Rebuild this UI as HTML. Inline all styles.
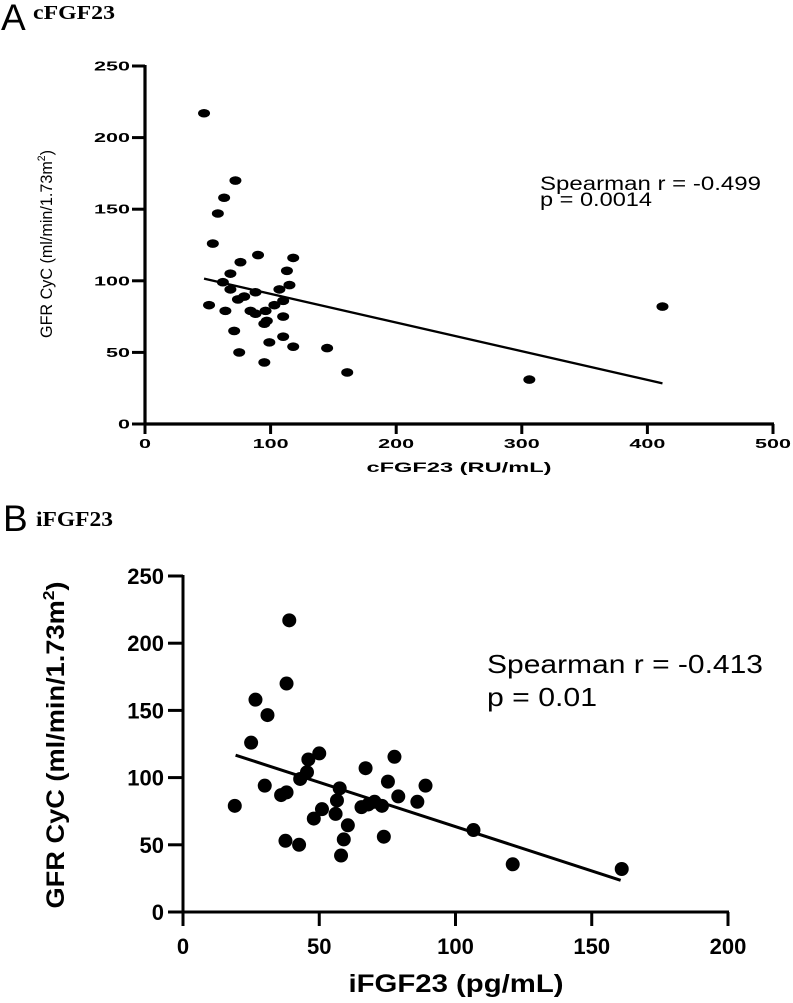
<!DOCTYPE html>
<html><head><meta charset="utf-8"><style>
html,body{margin:0;padding:0;background:#fff;}
svg{display:block;}
text{fill:#000;}
</style></head><body>
<svg id="fig" width="793" height="1003" viewBox="0 0 793 1003" xmlns="http://www.w3.org/2000/svg">
<text x="1" y="30" font-family="Liberation Sans, sans-serif" font-size="37" font-weight="300">A</text>
<text x="33" y="19" font-family="Liberation Serif, serif" font-size="20" font-weight="bold" textLength="82" lengthAdjust="spacingAndGlyphs">cFGF23</text>
<text x="3" y="531" font-family="Liberation Sans, sans-serif" font-size="37" font-weight="300">B</text>
<text x="36" y="526" font-family="Liberation Serif, serif" font-size="21" font-weight="bold" textLength="77" lengthAdjust="spacingAndGlyphs">iFGF23</text>
<g id="chartA"></g>
<g id="chartB"></g>
</svg>
<script>
// Panel A data (cFGF23 RU/mL vs GFR CyC)
const aX = [47,72,63,58,54,90,118,76,113,68,62,115,68,107,88,79,74,110,51,103,84,64,96,88,110,97,95,71,110,99,118,145,75,95,161,306,412];
const aY = [217,170,158,147,126,118,116,113,107,105,99,97,94,94,92,89,87,86,83,83,79,79,79,77,75,72,70,65,61,57,54,53,50,43,36,31,82];
const aLineX = [47,412];
const aLineY = [101.5,28.4];
const aXTicks = [0,100,200,300,400,500];
const aYTicks = [0,50,100,150,200,250];
// Panel B data (iFGF23 pg/mL vs GFR CyC)
const bX = [39,38,26.6,31,25,50,46,45.5,43,30,38,36,19,57.5,56.5,51,56,48,60.5,59,37.6,42.6,58,67,65.5,77.6,75.2,89,79,86,70.3,73,68,73.7,106.6,121,161];
const bY = [217,170,158,146.5,126,118,113.5,104,99,94,89,87,79,92,83,76.5,73,69.5,64.5,54,53,50,42,107,78,115.5,97,94,86,82,82,79,80,56,61,35.5,32];
const bLineX = [19.3,160.6];
const bLineY = [116.7,23.6];
const bXTicks = [0,50,100,150,200];
const bYTicks = [0,50,100,150,200,250];

const NS = 'http://www.w3.org/2000/svg';
function mk(parent, tag, attrs, txt) {
  const e = document.createElementNS(NS, tag);
  for (const k in attrs) e.setAttribute(k, attrs[k]);
  if (txt !== undefined) e.textContent = txt;
  parent.appendChild(e);
  return e;
}

// ---------- Panel A ----------
(function(){
  const g = document.getElementById('chartA');
  const x0 = 145, x1 = 773, y0 = 424, y1 = 66;
  const sx = v => x0 + (v - 0) / 500 * (x1 - x0);
  const sy = v => y0 - v / 250 * (y0 - y1);
  const yAxis = mk(g, 'line', {x1:x0, y1:y1-1, x2:x0, y2:y0+1, stroke:'#000', 'stroke-width':3.2});
  
  
  const xAxis = mk(g, 'line', {x1:x0-1, y1:y0, x2:x1+1, y2:y0, stroke:'#000', 'stroke-width':3.2});
  
  
  aYTicks.forEach(v => {
    const t = mk(g, 'line', {x1:x0-13, y1:sy(v), x2:x0, y2:sy(v), stroke:'#000', 'stroke-width':3});
    
    
    const s = String(v);
    const l = mk(g, 'text', {x:130, y:sy(v)+4.5, 'text-anchor':'end', 'font-family':'Liberation Sans, sans-serif', 'font-size':12.5, 'font-weight':'bold', textLength: s.length*12, lengthAdjust:'spacingAndGlyphs'}, s);
    
    
  });
  aXTicks.forEach(v => {
    const t = mk(g, 'line', {x1:sx(v), y1:y0, x2:sx(v), y2:y0+10, stroke:'#000', 'stroke-width':3});
    
    
    const s = String(v);
    const l = mk(g, 'text', {x:sx(v), y:448, 'text-anchor':'middle', 'font-family':'Liberation Sans, sans-serif', 'font-size':12.5, 'font-weight':'bold', textLength: s.length*12, lengthAdjust:'spacingAndGlyphs'}, s);
    
    
  });
  const xt = mk(g, 'text', {x:459, y:472, 'text-anchor':'middle', 'font-family':'Liberation Sans, sans-serif', 'font-size':14, 'font-weight':'bold', textLength:185, lengthAdjust:'spacingAndGlyphs'}, 'cFGF23 (RU/mL)');
  
  
  const yt = mk(g, 'text', {x:0, y:0, transform:'translate(52,244) rotate(-90)', 'text-anchor':'middle', 'font-family':'Liberation Sans, sans-serif', 'font-size':17, textLength:188, lengthAdjust:'spacingAndGlyphs'});
  
  
  yt.innerHTML = 'GFR CyC (ml/min/1.73m<tspan dy="-7" font-size="11">2</tspan><tspan dy="7">)</tspan>';
  aX.forEach((v,i) => {
    const d = mk(g, 'ellipse', {cx:sx(v), cy:sy(aY[i]), rx:6, ry:4.3, fill:'#000'});
    
    
  });
  const ln = mk(g, 'line', {x1:sx(aLineX[0]), y1:sy(aLineY[0]), x2:sx(aLineX[1]), y2:sy(aLineY[1]), stroke:'#000', 'stroke-width':2.3});
  
  
  const s1 = mk(g, 'text', {x:540, y:190, 'font-family':'Liberation Sans, sans-serif', 'font-size':19, textLength:221, lengthAdjust:'spacingAndGlyphs'}, 'Spearman r = -0.499');
  
  
  const s2 = mk(g, 'text', {x:540, y:206, 'font-family':'Liberation Sans, sans-serif', 'font-size':19, textLength:112, lengthAdjust:'spacingAndGlyphs'}, 'p = 0.0014');
  
  
})();

// ---------- Panel B ----------
(function(){
  const g = document.getElementById('chartB');
  const x0 = 183, x1 = 728, y0 = 912, y1 = 576;
  const sx = v => x0 + v / 200 * (x1 - x0);
  const sy = v => y0 - v / 250 * (y0 - y1);
  const yAxis = mk(g, 'line', {x1:x0, y1:y1-1, x2:x0, y2:y0+1, stroke:'#000', 'stroke-width':3});
  
  
  const xAxis = mk(g, 'line', {x1:x0-1, y1:y0, x2:x1+1, y2:y0, stroke:'#000', 'stroke-width':3});
  
  
  bYTicks.forEach(v => {
    const t = mk(g, 'line', {x1:x0-15, y1:sy(v), x2:x0, y2:sy(v), stroke:'#000', 'stroke-width':3});
    
    
    const l = mk(g, 'text', {x:164, y:sy(v)+8, 'text-anchor':'end', 'font-family':'Liberation Sans, sans-serif', 'font-size':22, 'font-weight':'bold'}, String(v));
    
    
  });
  bXTicks.forEach(v => {
    const t = mk(g, 'line', {x1:sx(v), y1:y0, x2:sx(v), y2:y0+14, stroke:'#000', 'stroke-width':3});
    
    
    const l = mk(g, 'text', {x:sx(v), y:954, 'text-anchor':'middle', 'font-family':'Liberation Sans, sans-serif', 'font-size':22, 'font-weight':'bold'}, String(v));
    
    
  });
  const xt = mk(g, 'text', {x:456, y:992, 'text-anchor':'middle', 'font-family':'Liberation Sans, sans-serif', 'font-size':25, 'font-weight':'bold', textLength:215, lengthAdjust:'spacingAndGlyphs'}, 'iFGF23 (pg/mL)');
  
  
  const yt = mk(g, 'text', {x:0, y:0, transform:'translate(64,745) rotate(-90)', 'text-anchor':'middle', 'font-family':'Liberation Sans, sans-serif', 'font-size':25, 'font-weight':'bold', textLength:327, lengthAdjust:'spacingAndGlyphs'});
  
  
  yt.innerHTML = 'GFR CyC (ml/min/1.73m<tspan dy="-10" font-size="16">2</tspan><tspan dy="10">)</tspan>';
  bX.forEach((v,i) => {
    const d = mk(g, 'circle', {cx:sx(v), cy:sy(bY[i]), r:7, fill:'#000'});
    
    
  });
  const ln = mk(g, 'line', {x1:sx(bLineX[0]), y1:sy(bLineY[0]), x2:sx(bLineX[1]), y2:sy(bLineY[1]), stroke:'#000', 'stroke-width':3});
  
  
  const s1 = mk(g, 'text', {x:487, y:673, 'font-family':'Liberation Sans, sans-serif', 'font-size':26, textLength:276, lengthAdjust:'spacingAndGlyphs'}, 'Spearman r = -0.413');
  
  
  const s2 = mk(g, 'text', {x:487, y:706, 'font-family':'Liberation Sans, sans-serif', 'font-size':26, textLength:110, lengthAdjust:'spacingAndGlyphs'}, 'p = 0.01');
  
  
})();
</script>
</body></html>
